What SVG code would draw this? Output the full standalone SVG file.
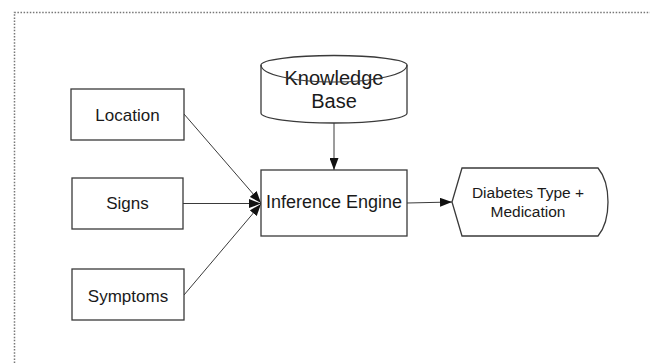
<svg xmlns="http://www.w3.org/2000/svg" width="650" height="363" viewBox="0 0 650 363">
<defs>
<style>
.box{fill:#fff;stroke:#3a3a3a;stroke-width:1.3}
.lbl{font-family:"Liberation Sans",Arial,sans-serif;fill:#1a1a1a;text-anchor:middle}
.con{fill:none;stroke:#3a3a3a;stroke-width:1}
.frame{fill:none;stroke:#777;stroke-width:1.5;stroke-dasharray:1.5 1.6}
</style>
<marker id="ah" viewBox="0 0 12 9" refX="12" refY="4.5" markerWidth="12" markerHeight="9" markerUnits="userSpaceOnUse" orient="auto">
<path d="M0,0 L12,4.5 L0,9 Z" fill="#111"/>
</marker>
</defs>
<rect width="650" height="363" fill="#fff"/>
<path class="frame" d="M14.5,363 V12.5 H650"/>
<g id="connectors">
<line class="con" x1="184" y1="114" x2="261" y2="203" marker-end="url(#ah)"/>
<line class="con" x1="183" y1="203.5" x2="261" y2="203.5" marker-end="url(#ah)"/>
<line class="con" x1="184" y1="295" x2="261" y2="204" marker-end="url(#ah)"/>
<line class="con" x1="334" y1="123" x2="334" y2="170" marker-end="url(#ah)"/>
<line class="con" x1="407" y1="203" x2="452" y2="202" marker-end="url(#ah)"/>
</g>
<g id="location">
<rect class="box" x="71" y="89" width="113" height="51"/>
<text class="lbl" x="127.5" y="120.5" font-size="17">Location</text>
</g>
<g id="signs">
<rect class="box" x="72" y="178" width="111" height="51"/>
<text class="lbl" x="127.5" y="209" font-size="17">Signs</text>
</g>
<g id="symptoms">
<rect class="box" x="72" y="269" width="112" height="51"/>
<text class="lbl" x="128" y="302" font-size="17">Symptoms</text>
</g>
<g id="knowledge-base">
<path class="box" d="M261,65 V113 A73,10 0 0 0 407,113 V65 A73,9.5 0 0 0 261,65 Z"/>
<text class="lbl" x="334" y="85" font-size="20">Knowledge</text>
<text class="lbl" x="334" y="108" font-size="20">Base</text>
<path fill="none" stroke="#3a3a3a" stroke-width="1.2" d="M261,65 A73,17 0 0 0 407,65"/>
</g>
<g id="inference-engine">
<rect class="box" x="261" y="170" width="146" height="66"/>
<text class="lbl" x="334" y="208" font-size="18">Inference Engine</text>
</g>
<g id="output">
<path class="box" d="M462,168 H598 Q608,180 608,202 Q608,224 598,236 H462 L452,202 Z"/>
<text class="lbl" x="528" y="198" font-size="15.5">Diabetes Type +</text>
<text class="lbl" x="528" y="217" font-size="15.5">Medication</text>
</g>
</svg>
